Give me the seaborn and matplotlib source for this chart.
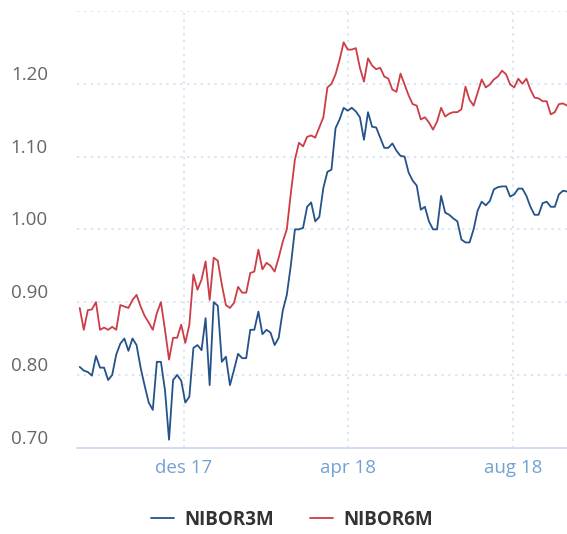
"""NIBOR 3M / 6M fixing, Sep 2017 - Sep 2018.

Run:  python3 plot.py   ->  out.png
"""

import matplotlib
matplotlib.use("Agg")
import matplotlib.pyplot as plt
import pandas as pd
import seaborn as sns

# Values, one every third calendar day from START.
START = "2017-09-15"
STEP = "3D"

NIBOR3M = [
    0.811, 0.806, 0.804, 0.799, 0.826, 0.810, 0.810, 0.793, 0.800, 0.828,
    0.843, 0.850, 0.833, 0.850, 0.841, 0.810, 0.785, 0.762, 0.752, 0.818,
    0.818, 0.779, 0.711, 0.793, 0.800, 0.792, 0.762, 0.770, 0.837, 0.841,
    0.834, 0.878, 0.786, 0.900, 0.895, 0.818, 0.825, 0.786, 0.807, 0.829,
    0.823, 0.823, 0.862, 0.862, 0.887, 0.856, 0.862, 0.858, 0.841, 0.851,
    0.888, 0.910, 0.951, 1.000, 1.000, 1.002, 1.031, 1.037, 1.011, 1.017,
    1.057, 1.079, 1.082, 1.139, 1.151, 1.167, 1.163, 1.167, 1.162, 1.154,
    1.123, 1.161, 1.141, 1.140, 1.126, 1.112, 1.112, 1.118, 1.108, 1.101,
    1.100, 1.078, 1.067, 1.060, 1.027, 1.031, 1.011, 1.000, 1.000, 1.046,
    1.023, 1.020, 1.015, 1.011, 0.986, 0.982, 0.982, 1.000, 1.026, 1.038,
    1.033, 1.039, 1.055, 1.058, 1.059, 1.059, 1.045, 1.048, 1.056, 1.056,
    1.046, 1.031, 1.020, 1.020, 1.036, 1.038, 1.031, 1.031, 1.048, 1.053,
    1.052,
]

NIBOR6M = [
    0.892, 0.862, 0.889, 0.890, 0.900, 0.862, 0.865, 0.862, 0.866, 0.862,
    0.896, 0.894, 0.892, 0.903, 0.910, 0.894, 0.881, 0.872, 0.862, 0.885,
    0.900, 0.862, 0.821, 0.851, 0.851, 0.869, 0.844, 0.869, 0.938, 0.917,
    0.931, 0.956, 0.903, 0.961, 0.957, 0.924, 0.896, 0.892, 0.899, 0.921,
    0.913, 0.913, 0.940, 0.942, 0.972, 0.945, 0.954, 0.950, 0.942, 0.961,
    0.983, 1.000, 1.050, 1.096, 1.119, 1.114, 1.127, 1.129, 1.126, 1.140,
    1.154, 1.195, 1.200, 1.213, 1.233, 1.257, 1.247, 1.247, 1.249, 1.222,
    1.203, 1.235, 1.225, 1.220, 1.222, 1.210, 1.207, 1.192, 1.189, 1.214,
    1.199, 1.184, 1.172, 1.170, 1.151, 1.154, 1.147, 1.137, 1.148, 1.167,
    1.155, 1.159, 1.161, 1.161, 1.165, 1.196, 1.178, 1.170, 1.188, 1.206,
    1.195, 1.199, 1.206, 1.210, 1.218, 1.213, 1.199, 1.195, 1.207, 1.200,
    1.207, 1.192, 1.181, 1.180, 1.176, 1.176, 1.158, 1.161, 1.172, 1.173,
    1.170,
]

SERIES_COLORS = {"NIBOR3M": "#24528a", "NIBOR6M": "#cc3d46"}

X_TICKS = ["2017-12-01", "2018-04-01", "2018-08-01"]
X_TICK_LABELS = ["des 17", "apr 18", "aug 18"]
X_LIMITS = ("2017-09-13", "2018-09-10")

Y_TICKS = [0.70, 0.80, 0.90, 1.00, 1.10, 1.20, 1.30]
Y_TICK_LABELS = ["0.70", "0.80", "0.90", "1.00", "1.10", "1.20", ""]

GRID_COLOR = "#cfdff1"
AXIS_COLOR = "#c3d5ec"


def build_frame() -> pd.DataFrame:
    dates = pd.date_range(START, periods=len(NIBOR3M), freq=STEP)
    wide = pd.DataFrame({"NIBOR3M": NIBOR3M, "NIBOR6M": NIBOR6M}, index=dates)
    wide.index.name = "date"
    return wide.reset_index().melt(id_vars="date", var_name="series", value_name="rate")


def main() -> None:
    sns.set_theme(style="white")
    plt.rcParams["font.family"] = ["Open Sans", "DejaVu Sans"]

    df = build_frame()

    fig = plt.figure(figsize=(5.67, 5.34), dpi=100)
    ax = fig.add_axes([77 / 567, 86.3 / 534, 490 / 567, 436.7 / 534])

    sns.lineplot(data=df, x="date", y="rate", hue="series",
                 palette=SERIES_COLORS, linewidth=1.3, ax=ax)

    handles, labels = ax.get_legend_handles_labels()
    ax.get_legend().remove()

    ax.set_xlim(pd.Timestamp(X_LIMITS[0]), pd.Timestamp(X_LIMITS[1]))
    ax.set_ylim(Y_TICKS[0], Y_TICKS[-1])
    ax.set_xticks(pd.to_datetime(X_TICKS), X_TICK_LABELS)
    ax.set_yticks(Y_TICKS, Y_TICK_LABELS, va="bottom")
    ax.set(xlabel="", ylabel="")

    ax.grid(True, color=GRID_COLOR, linestyle=(0, (1.5, 3)), linewidth=1.1)
    ax.set_axisbelow(True)
    for side in ("top", "right", "left"):
        ax.spines[side].set_visible(False)
    ax.spines["bottom"].set_color(AXIS_COLOR)
    ax.spines["bottom"].set_linewidth(1.1)
    ax.spines["bottom"].set_zorder(0.5)

    ax.tick_params(axis="x", direction="in", length=11, width=1.1,
                   color=AXIS_COLOR, pad=8, labelsize=13.5, labelcolor="#72a1d6")
    ax.tick_params(axis="y", length=0, pad=21, labelsize=13.5, labelcolor="#666666")

    fig.legend(handles, labels, loc="center", bbox_to_anchor=(0.515, 0.027),
               ncol=2, frameon=False, handlelength=1.25, handletextpad=0.55,
               columnspacing=1.9, prop={"weight": "bold", "size": 13.5},
               labelcolor="#333333")

    fig.savefig("out.png", dpi=100)
    plt.close(fig)


if __name__ == "__main__":
    main()
